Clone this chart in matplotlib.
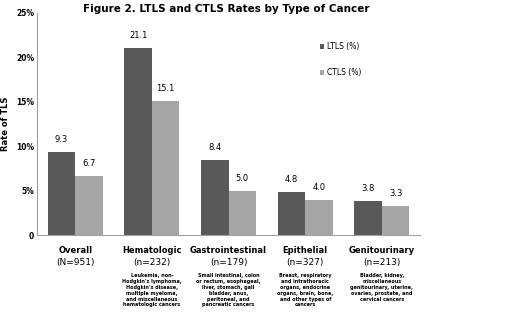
import matplotlib.pyplot as plt
import numpy as np

plt.rcParams['font.family'] = ['Liberation Sans Narrow', 'DejaVu Sans']

categories = ["Overall", "Hematologic", "Gastrointestinal", "Epithelial", "Genitourinary"]
counts = ["(N=951)", "(n=232)", "(n=179)", "(n=327)", "(n=213)"]
details = [
    "",
    "Leukemia, non-\nHodgkin's lymphoma,\nHodgkin's disease,\nmultiple myeloma,\nand miscellaneous\nhematologic cancers",
    "Small intestinal, colon\nor rectum, esophageal,\nliver, stomach, gall\nbladder, anus,\nperitoneal, and\npancreatic cancers",
    "Breast, respiratory\nand intrathoracic\norgans, endocrine\norgans, brain, bone,\nand other types of\ncancers",
    "Bladder, kidney,\nmiscellaneous\ngenitourinary, uterine,\novaries, prostate, and\ncervical cancers",
]
ltls = [9.3, 21.1, 8.4, 4.8, 3.8]
ctls = [6.7, 15.1, 5.0, 4.0, 3.3]

dark = '#595959'
light = '#a6a6a6'

fig = plt.figure(figsize=(5.2, 3.16), dpi=100)
ax = fig.add_axes([0.071, 0.256, 0.737, 0.703])

x = np.arange(len(categories))
w = 0.36
b1 = ax.bar(x - w / 2, ltls, w, color=dark, label='LTLS (%)')
b2 = ax.bar(x + w / 2, ctls, w, color=light, label='CTLS (%)')

for bars, vals in [(b1, ltls), (b2, ctls)]:
    for bar, v in zip(bars, vals):
        ax.text(bar.get_x() + bar.get_width() / 2, v + 0.9, f'{v:.1f}',
                ha='center', va='bottom', fontsize=6)

ax.set_xlim(-0.5, len(categories) - 0.5)
ax.set_ylim(0, 25)
ax.set_yticks([0, 5, 10, 15, 20, 25])
ax.set_yticklabels(['0', '5%', '10%', '15%', '20%', '25%'], fontsize=5.5, fontweight='bold')
ax.set_xticks([])
ax.tick_params(axis='y', length=0, pad=2)
for s in ['top', 'right']:
    ax.spines[s].set_visible(False)
ax.spines['left'].set_color('#a0a0a0')
ax.spines['bottom'].set_color('#a0a0a0')

ax.set_ylabel('Rate of TLS', fontsize=6, fontweight='bold', labelpad=4)

for i in range(len(categories)):
    ax.text(i, -1.2, categories[i], ha='center', va='top',
            fontsize=6, fontweight='bold')
    ax.text(i, -2.6, counts[i], ha='center', va='top', fontsize=6.5)
    if details[i]:
        ax.text(i, -4.3, details[i], ha='center', va='top', fontsize=3.5,
                fontweight='bold', linespacing=1.2)

fig.text(0.435, 0.972, 'Figure 2. LTLS and CTLS Rates by Type of Cancer',
         ha='center', va='center', fontsize=7.5, fontweight='bold')

ax.legend(loc='upper left', bbox_to_anchor=(0.72, 0.9), frameon=False,
          fontsize=5.5, handlelength=0.6, handleheight=0.6, labelspacing=2.2,
          handletextpad=0.4)

fig.savefig('out.png', dpi=100)
